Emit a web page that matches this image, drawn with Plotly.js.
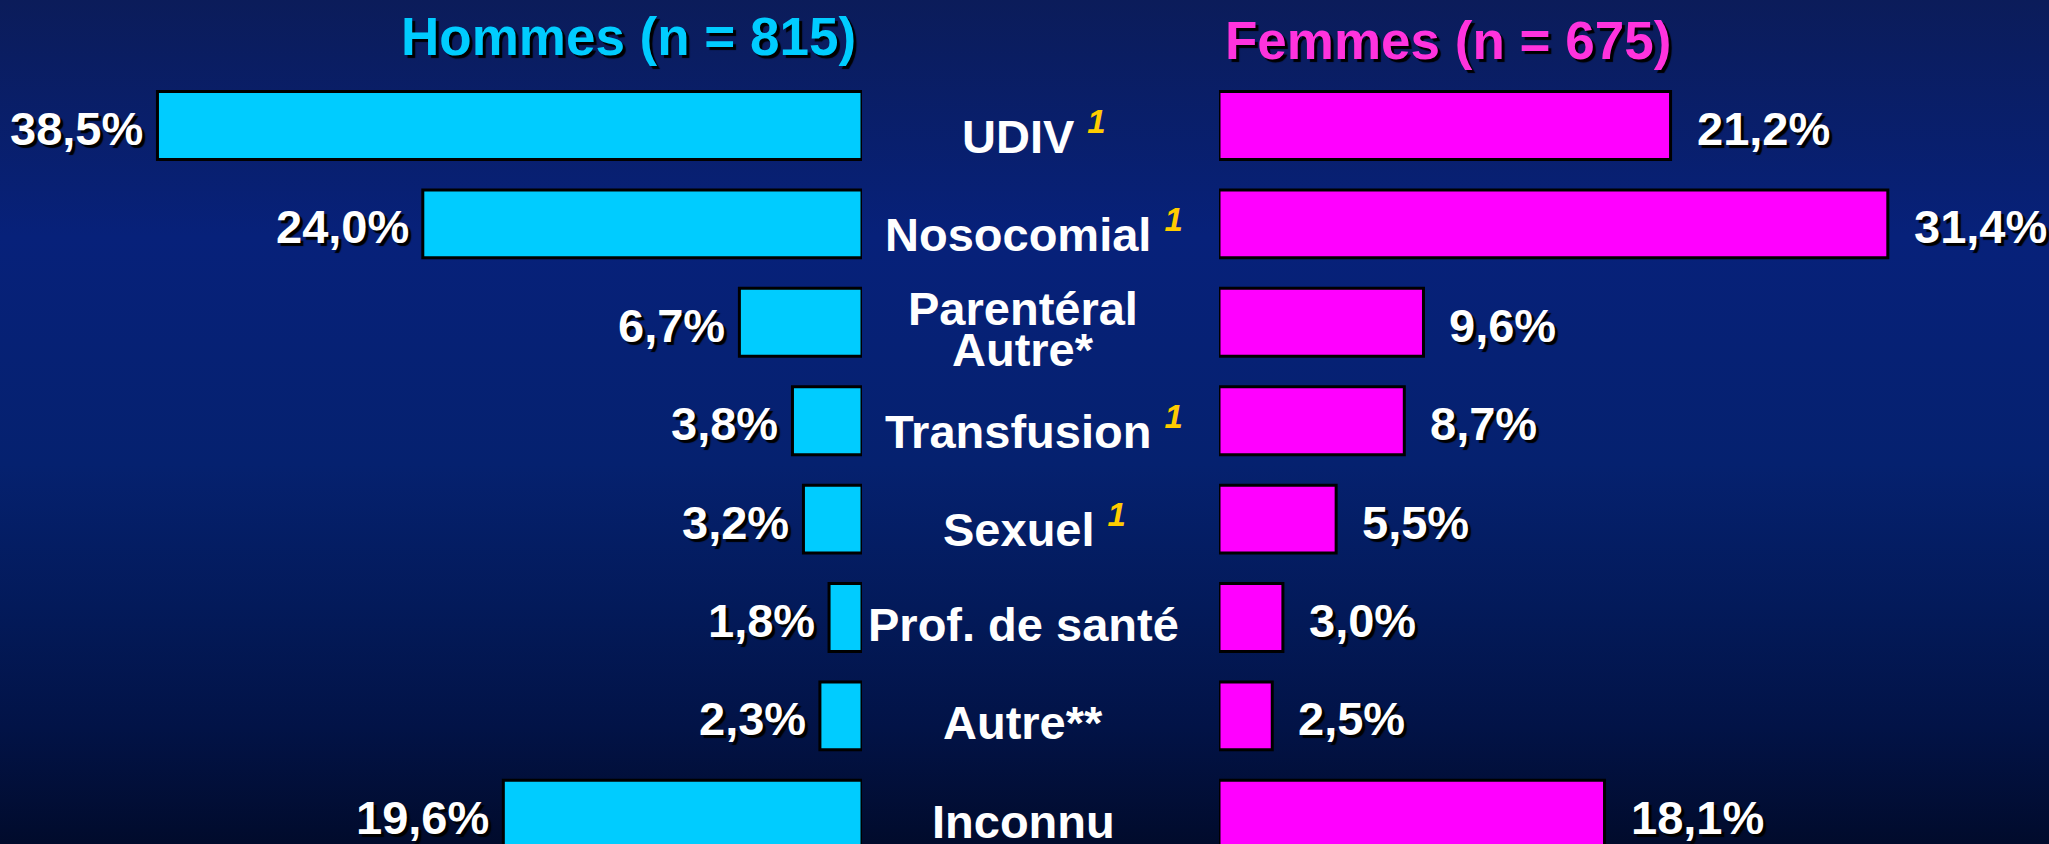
<!DOCTYPE html>
<html>
<head>
<meta charset="utf-8">
<script src="https://cdn.plot.ly/plotly-3.0.1.min.js"></script>
<style>
  html, body { margin: 0; padding: 0; }
  #chart {
    width: 2049px; height: 844px;
    background: linear-gradient(to bottom, #0b1c5a 0%, #07217a 28%, #05216f 55%, #031a5a 72%, #021347 86%, #010b2c 100%);
  }
</style>
</head>
<body>
<div id="chart"></div>
<script>
// ---- Data ----
const categories = ['UDIV', 'Nosocomial', 'Parentéral<br>Autre*', 'Transfusion', 'Sexuel', 'Prof. de santé', 'Autre**', 'Inconnu'];
const footnotes  = ['1', '1', '', '1', '1', '', '', ''];
const hommes = [38.5, 24.0, 6.7, 3.8, 3.2, 1.8, 2.3, 19.6];
const femmes = [21.2, 31.4, 9.6, 8.7, 5.5, 3.0, 2.5, 18.1];
const titleHommes = 'Hommes (n = 815)';
const titleFemmes = 'Femmes (n = 675)';

// ---- Style ----
const W = 2049, H = 844;
const FONT = 'Liberation Sans, Arial, sans-serif';
const cyan = '#00CCFF', magenta = '#FF00FF', titleMagenta = '#FF33DD', gold = '#FFCC00';
const shadow = '3px 3px 1px #000';
const idx = categories.map((c, i) => i);

const menRight = 862, womenLeft = 1219;
const menScale = 18.3, womenScale = 21.3; // px per %
const rowPitch = 98.4, firstRow = 125.5;

const fmt = v => v.toFixed(1).replace('.', ',') + '%';

const traces = [
  {
    type: 'bar', orientation: 'h', x: hommes, y: idx, xaxis: 'x', yaxis: 'y',
    width: 0.69, marker: { color: cyan, line: { color: '#000', width: 3 } },
    hoverinfo: 'skip'
  },
  {
    type: 'bar', orientation: 'h', x: femmes, y: idx, xaxis: 'x2', yaxis: 'y',
    width: 0.69, marker: { color: magenta, line: { color: '#000', width: 3 } },
    hoverinfo: 'skip'
  }
];

const annotations = [];
hommes.forEach((v, i) => annotations.push({
  xref: 'x', yref: 'y', x: v, y: i, text: fmt(v), showarrow: false,
  xanchor: 'right', yanchor: 'middle', xshift: -12, yshift: -3,
  font: { family: FONT, size: 47, color: '#fff', weight: 'bold', shadow: shadow }
}));
femmes.forEach((v, i) => annotations.push({
  xref: 'x2', yref: 'y', x: v, y: i, text: fmt(v), showarrow: false,
  xanchor: 'left', yanchor: 'middle', xshift: 24, yshift: -3,
  font: { family: FONT, size: 47, color: '#fff', weight: 'bold', shadow: shadow }
}));
categories.forEach((c, i) => {
  const lines = c.split('<br>');
  const spacing = 41;
  lines.forEach((ln, k) => {
    let txt = ln;
    let xs = 0;
    if (k === lines.length - 1 && footnotes[i]) {
      txt = ln + ' <sup><i><span style="color:' + gold + '">' + footnotes[i] + '</span></i></sup>';
      xs = 11;
    }
    const offset = (k - (lines.length - 1) / 2) * spacing;
    annotations.push({
      xref: 'paper', yref: 'y', x: 1023 / W, y: i, text: txt, showarrow: false,
      xanchor: 'center', yanchor: 'middle', xshift: xs, yshift: -7 - offset,
      font: { family: FONT, size: 47, color: '#fff', weight: 'bold' }
    });
  });
});
annotations.push({
  xref: 'paper', yref: 'paper', x: 628 / W, y: 1 - 36 / H, text: titleHommes, showarrow: false,
  xanchor: 'center', yanchor: 'middle',
  font: { family: FONT, size: 53, color: cyan, weight: 'bold', shadow: shadow }
});
annotations.push({
  xref: 'paper', yref: 'paper', x: 1448 / W, y: 1 - 41 / H, text: titleFemmes, showarrow: false,
  xanchor: 'center', yanchor: 'middle',
  font: { family: FONT, size: 53, color: titleMagenta, weight: 'bold', shadow: shadow }
});

const layout = {
  width: W, height: H,
  margin: { l: 0, r: 0, t: 0, b: 0, pad: 0 },
  paper_bgcolor: 'rgba(0,0,0,0)', plot_bgcolor: 'rgba(0,0,0,0)',
  showlegend: false,
  xaxis: {
    domain: [0, menRight / W], range: [menRight / menScale, 0],
    visible: false, fixedrange: true
  },
  xaxis2: {
    domain: [womenLeft / W, 1], range: [0, (W - womenLeft) / womenScale],
    visible: false, fixedrange: true
  },
  yaxis: {
    domain: [0, 1],
    range: [(H - firstRow) / rowPitch, -firstRow / rowPitch],
    visible: false, fixedrange: true
  },
  annotations: annotations
};

Plotly.newPlot('chart', traces, layout, { displayModeBar: false, staticPlot: true });
</script>
</body>
</html>
